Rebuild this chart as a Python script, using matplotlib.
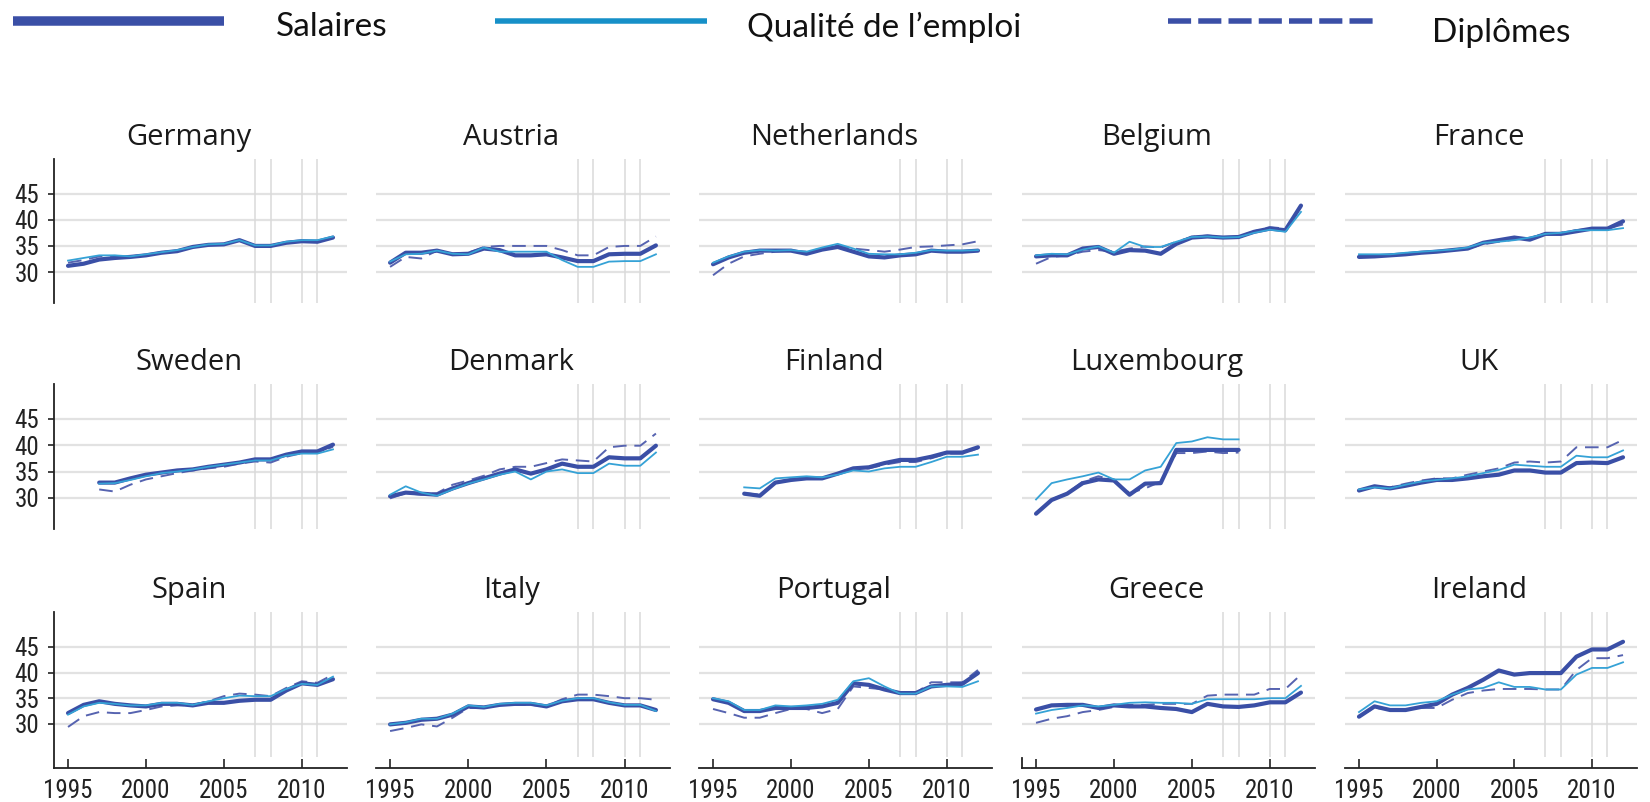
"""
Salaires / qualité de l'emploi / diplômes : 15 pays, 1995-2012
"""

import matplotlib
matplotlib.use('Agg')
import matplotlib.pyplot as plt
from matplotlib import font_manager
from matplotlib.lines import Line2D

# ---- données ----
countries = ['Germany', 'Austria', 'Netherlands', 'Belgium', 'France',
             'Sweden', 'Denmark', 'Finland', 'Luxembourg', 'UK',
             'Spain', 'Italy', 'Portugal', 'Greece', 'Ireland']

# première année disponible (1995 sinon)
first_year = {'Sweden': 1997, 'Finland': 1997}

salaires = {
    'Germany':     [31.2, 31.6, 32.4, 32.7, 32.9, 33.2, 33.7, 34.0, 34.8, 35.2, 35.3, 36.1, 35.0, 35.0, 35.6, 35.9, 35.8, 36.6],
    'Austria':     [31.8, 33.7, 33.7, 34.1, 33.4, 33.5, 34.5, 34.2, 33.2, 33.2, 33.4, 32.8, 32.1, 32.1, 33.4, 33.5, 33.5, 35.1],
    'Netherlands': [31.5, 32.8, 33.7, 34.1, 34.1, 34.1, 33.5, 34.3, 34.8, 33.9, 33.0, 32.8, 33.2, 33.4, 34.1, 33.9, 33.9, 34.1],
    'Belgium':     [33.0, 33.2, 33.2, 34.5, 34.8, 33.5, 34.2, 34.1, 33.5, 35.4, 36.6, 36.8, 36.6, 36.7, 37.7, 38.3, 38.0, 42.7],
    'France':      [32.9, 33.0, 33.2, 33.4, 33.7, 33.9, 34.2, 34.5, 35.6, 36.1, 36.6, 36.2, 37.3, 37.3, 37.8, 38.3, 38.3, 39.7],
    'Sweden':      [32.9, 32.9, 33.7, 34.4, 34.8, 35.2, 35.4, 35.9, 36.3, 36.7, 37.3, 37.3, 38.2, 38.8, 38.8, 40.1],
    'Denmark':     [30.3, 31.0, 30.8, 30.6, 31.8, 32.8, 33.7, 34.6, 35.4, 34.6, 35.4, 36.5, 35.9, 35.9, 37.7, 37.5, 37.5, 39.9],
    'Finland':     [30.8, 30.4, 32.9, 33.4, 33.7, 33.7, 34.6, 35.6, 35.8, 36.6, 37.2, 37.2, 37.8, 38.6, 38.6, 39.6],
    'Luxembourg':  [27.0, 29.6, 30.8, 32.8, 33.5, 33.3, 30.6, 32.7, 32.8, 39.1, 39.1, 39.1, 39.1, 39.1],
    'UK':          [31.4, 32.2, 31.8, 32.3, 32.9, 33.4, 33.4, 33.7, 34.1, 34.4, 35.2, 35.2, 34.8, 34.8, 36.6, 36.7, 36.6, 37.7],
    'Spain':       [32.1, 33.7, 34.4, 33.9, 33.6, 33.4, 33.9, 33.9, 33.6, 34.1, 34.1, 34.5, 34.7, 34.7, 36.5, 37.9, 37.6, 38.7],
    'Italy':       [29.9, 30.2, 30.8, 31.0, 31.8, 33.4, 33.2, 33.7, 33.9, 33.9, 33.4, 34.4, 34.8, 34.8, 34.1, 33.6, 33.6, 32.7],
    'Portugal':    [34.8, 34.1, 32.5, 32.5, 33.1, 33.1, 33.1, 33.4, 34.1, 37.9, 37.6, 36.7, 36.0, 36.0, 37.3, 37.6, 37.8, 39.9],
    'Greece':      [32.8, 33.6, 33.7, 33.7, 33.1, 33.6, 33.4, 33.4, 33.1, 32.9, 32.3, 33.9, 33.4, 33.3, 33.6, 34.2, 34.2, 36.1],
    'Ireland':     [31.4, 33.4, 32.7, 32.7, 33.3, 33.9, 35.7, 37.0, 38.6, 40.4, 39.6, 39.9, 39.9, 39.9, 43.1, 44.5, 44.5, 46.0],
}

qualite = {
    'Germany':     [32.2, 32.7, 33.2, 33.2, 33.0, 33.4, 33.8, 34.2, 34.8, 35.3, 35.4, 36.1, 35.1, 35.1, 35.8, 36.1, 36.1, 36.8],
    'Austria':     [32.0, 33.4, 33.5, 34.1, 33.5, 33.4, 34.7, 33.9, 33.9, 33.9, 33.9, 32.3, 31.0, 31.0, 32.0, 32.1, 32.1, 33.4],
    'Netherlands': [31.8, 33.0, 33.9, 34.2, 34.1, 34.2, 33.9, 34.7, 35.4, 34.5, 33.5, 33.4, 33.4, 33.7, 34.2, 34.1, 34.1, 34.2],
    'Belgium':     [33.2, 33.5, 33.4, 34.3, 34.9, 33.7, 35.8, 34.8, 34.8, 35.8, 36.7, 36.8, 36.6, 36.7, 37.5, 38.1, 37.7, 41.5],
    'France':      [33.4, 33.4, 33.4, 33.7, 33.9, 34.1, 34.3, 34.7, 35.6, 35.8, 36.1, 36.6, 37.3, 37.5, 38.0, 38.0, 38.0, 38.4],
    'Sweden':      [32.7, 32.8, 33.4, 34.1, 34.7, 35.0, 35.4, 35.9, 36.3, 36.7, 37.1, 37.1, 38.0, 38.4, 38.4, 39.2],
    'Denmark':     [30.6, 32.2, 31.0, 30.4, 31.6, 32.7, 33.5, 34.4, 35.0, 33.5, 35.0, 35.4, 34.7, 34.7, 36.5, 36.1, 36.1, 38.6],
    'Finland':     [32.0, 31.8, 33.7, 33.9, 34.1, 33.9, 34.4, 35.2, 35.0, 35.6, 35.9, 35.9, 36.8, 37.8, 37.8, 38.2],
    'Luxembourg':  [29.7, 32.8, 33.5, 34.1, 34.8, 33.5, 33.5, 35.2, 35.9, 40.4, 40.7, 41.5, 41.1, 41.1],
    'UK':          [31.6, 32.0, 31.8, 32.5, 33.1, 33.4, 33.7, 34.1, 34.7, 35.3, 36.3, 36.1, 35.9, 35.9, 38.0, 37.7, 37.7, 39.0],
    'Spain':       [31.8, 33.4, 34.1, 33.9, 33.6, 33.6, 34.1, 34.1, 33.7, 34.4, 35.0, 35.5, 35.4, 35.4, 36.8, 37.8, 37.6, 39.2],
    'Italy':       [29.9, 30.3, 31.0, 31.0, 32.0, 33.6, 33.3, 33.9, 34.1, 34.1, 33.6, 34.5, 35.0, 35.0, 34.2, 33.7, 33.7, 32.5],
    'Portugal':    [35.0, 34.4, 32.7, 32.7, 33.6, 33.4, 33.6, 33.9, 34.7, 38.3, 38.9, 37.3, 35.9, 35.9, 37.3, 37.3, 37.2, 38.3],
    'Greece':      [32.0, 32.7, 33.1, 33.6, 33.4, 33.7, 34.1, 34.2, 34.1, 34.1, 33.9, 34.8, 34.8, 34.8, 34.8, 35.0, 35.0, 37.4],
    'Ireland':     [32.3, 34.4, 33.6, 33.6, 34.1, 34.4, 35.7, 36.7, 37.0, 38.1, 37.2, 37.2, 36.7, 36.7, 39.6, 40.9, 40.9, 42.0],
}

diplomes = {
    'Germany':     [31.8, 32.3, 33.0, 33.1, 33.0, 33.3, 33.8, 34.1, 34.8, 35.2, 35.3, 36.0, 35.0, 35.0, 35.7, 36.0, 35.9, 36.7],
    'Austria':     [31.0, 32.9, 32.6, 34.1, 33.5, 33.7, 34.8, 35.0, 35.0, 35.0, 35.0, 34.2, 33.2, 33.2, 34.8, 35.0, 35.0, 36.8],
    'Netherlands': [29.4, 31.6, 33.0, 33.5, 33.9, 34.1, 33.9, 34.5, 35.1, 34.5, 34.2, 33.9, 34.3, 34.8, 34.9, 35.1, 35.3, 35.9],
    'Belgium':     [31.6, 32.9, 33.2, 33.9, 34.2, 33.9, 34.5, 34.9, 34.7, 35.8, 36.7, 37.0, 36.7, 36.8, 37.8, 38.6, 38.3, 42.5],
    'France':      [32.9, 33.2, 33.2, 33.5, 33.7, 33.9, 34.2, 34.5, 35.3, 35.8, 36.2, 36.6, 37.3, 37.5, 38.0, 38.3, 38.3, 39.1],
    'Sweden':      [31.6, 31.2, 32.5, 33.5, 34.1, 34.7, 35.2, 35.6, 35.9, 36.5, 36.9, 36.7, 37.8, 38.5, 38.5, 39.7],
    'Denmark':     [29.9, 30.9, 30.6, 30.9, 32.5, 33.3, 34.2, 35.4, 35.9, 35.9, 36.6, 37.3, 37.1, 36.9, 39.6, 39.9, 39.9, 42.2],
    'Finland':     [30.9, 30.6, 33.0, 33.5, 33.8, 33.8, 34.6, 35.4, 35.6, 36.3, 36.8, 36.8, 37.5, 38.4, 38.4, 39.4],
    'Luxembourg':  [27.1, 29.7, 30.9, 33.1, 34.1, 33.4, 30.9, 31.8, 33.1, 38.5, 38.5, 38.8, 38.5, 38.6],
    'UK':          [31.4, 32.2, 32.0, 32.7, 33.3, 33.7, 33.7, 34.4, 35.0, 35.6, 36.7, 36.9, 36.7, 36.9, 39.6, 39.6, 39.6, 41.0],
    'Spain':       [29.4, 31.5, 32.3, 32.1, 32.1, 32.7, 33.4, 33.6, 33.7, 34.4, 35.4, 35.9, 35.7, 35.4, 37.0, 38.3, 38.0, 39.6],
    'Italy':       [28.6, 29.2, 29.9, 29.5, 31.2, 33.1, 33.1, 33.7, 33.7, 33.7, 33.4, 34.8, 35.7, 35.7, 35.4, 35.0, 35.0, 34.7],
    'Portugal':    [32.9, 32.1, 31.2, 31.2, 32.1, 32.9, 32.9, 32.1, 32.9, 37.3, 37.0, 36.7, 35.9, 36.0, 38.1, 38.1, 38.1, 40.5],
    'Greece':      [30.2, 31.0, 31.5, 32.3, 32.7, 33.3, 33.7, 33.7, 33.9, 33.9, 33.9, 35.5, 35.7, 35.7, 35.7, 36.8, 36.8, 39.6],
    'Ireland':     [31.5, 33.1, 32.8, 32.8, 33.1, 33.1, 34.7, 36.0, 36.5, 36.8, 36.8, 36.8, 36.7, 36.7, 40.5, 42.8, 42.8, 43.4],
}

crisis_years = [2007, 2008, 2010, 2011]
y_ticks = [30, 35, 40, 45]
x_ticks = [1995, 2000, 2005, 2010]

# ---- style ----
C_SAL = '#3a4fa6'
C_QUAL = '#35a2d6'
C_DIPL = '#5663b0'
C_LEG_QUAL = '#1690c8'
GRID = '#e2e2e2'
VLINE = '#dadada'

W, H = 1650, 802

# police étroite pour les graduations si disponible
names = {f.name for f in font_manager.fontManager.ttflist}
NARROW = 'DejaVu Sans'
for cand in ['Liberation Sans Narrow', 'Roboto Condensed', 'Open Sans Condensed']:
    if cand in names:
        NARROW = cand
        break
TITLE_FONT = 'Open Sans'
LEG_FONT = 'Lato'

# boîtes des panneaux en pixels : colonnes (gauche, droite), lignes (haut, bas)
col_box = [(54, 347), (376, 670), (699, 992), (1022, 1315), (1345, 1637)]
row_box = [(159, 303), (384, 529), (612, 768)]


def narrow_labels(labels):
    for lab in labels:
        lab.set_family(NARROW)
        lab.set_fontstretch('condensed')


fig = plt.figure(figsize=(W / 100, H / 100), dpi=100)

for i, name in enumerate(countries):
    r, c = divmod(i, 5)
    x0, x1 = col_box[c]
    y0, y1 = row_box[r]
    ax = fig.add_axes([x0 / W, 1 - y1 / H, (x1 - x0) / W, (y1 - y0) / H])

    start = first_year.get(name, 1995)
    yrs = list(range(start, start + len(salaires[name])))

    ax.plot(yrs, diplomes[name], color=C_DIPL, lw=1.4, dashes=(7, 4), zorder=3)
    ax.plot(yrs, salaires[name], color=C_SAL, lw=3.0, solid_capstyle='round',
            solid_joinstyle='round', zorder=4)
    ax.plot(yrs, qualite[name], color=C_QUAL, lw=1.3, zorder=5)

    ax.set_xlim(1994.1, 2012.9)
    if r < 2:
        ax.set_ylim(24.1, 51.6)
        for yr in crisis_years:
            ax.axvline(yr, color=VLINE, lw=1.1, zorder=1)
    else:
        ax.set_ylim(21.4, 51.8)
        ax.vlines(crisis_years, 23.6, 51.8, color=VLINE, lw=1.1, zorder=1)

    ax.set_yticks(y_ticks)
    ax.grid(axis='y', color=GRID, lw=1.6, zorder=0)
    ax.set_axisbelow(True)

    for s in ['top', 'right']:
        ax.spines[s].set_visible(False)
    ax.spines['bottom'].set_visible(r == 2)
    ax.spines['left'].set_visible(c == 0)
    for s in ['left', 'bottom']:
        ax.spines[s].set_color('#222222')
        ax.spines[s].set_linewidth(1.3)

    if c == 0:
        ax.tick_params(axis='y', length=4.5, width=1.2, color='#222222', pad=6,
                       labelsize=18, labelcolor='#222222')
        narrow_labels(ax.get_yticklabels())
    else:
        ax.tick_params(axis='y', length=0, labelleft=False)

    if r == 2:
        ax.set_xticks(x_ticks)
        ax.tick_params(axis='x', direction='in', length=6.5, width=1.2,
                       color='#222222', pad=8, labelsize=18, labelcolor='#222222')
        narrow_labels(ax.get_xticklabels())
        if name == 'Greece':
            ax.spines['left'].set_visible(True)
            ax.spines['left'].set_bounds(21.4, 23.4)
            ax.tick_params(axis='y', length=0, labelleft=False)
    else:
        ax.set_xticks([])

    ax.set_title(name, fontsize=21, family=TITLE_FONT, color='#1a1a1a',
                 pad=10, x=0.46)

# ---- légende en haut ----
leg = [
    ('Salaires', C_SAL, 9.5, None, (13, 224), 21, (276, 27)),
    ('Qualité de l\u2019emploi', C_LEG_QUAL, 5.5, None, (495, 707), 21, (747, 27)),
    ('Diplômes', C_SAL, 5.5, (4.2, 1.3), (1168, 1379), 21, (1432, 33)),
]
for label, col, lw, dash, (lx0, lx1), ly, (tx, ty) in leg:
    ln = Line2D([lx0 / W, lx1 / W], [1 - ly / H, 1 - ly / H], transform=fig.transFigure,
                color=col, lw=lw * 0.72, solid_capstyle='butt')
    if dash:
        ln.set_dashes(dash)
        ln.set_dash_capstyle('butt')
    fig.add_artist(ln)
    fig.text(tx / W, 1 - ty / H, label, fontsize=24, family=LEG_FONT,
             color='#111111', ha='left', va='center')

fig.savefig('out.png', dpi=100)
